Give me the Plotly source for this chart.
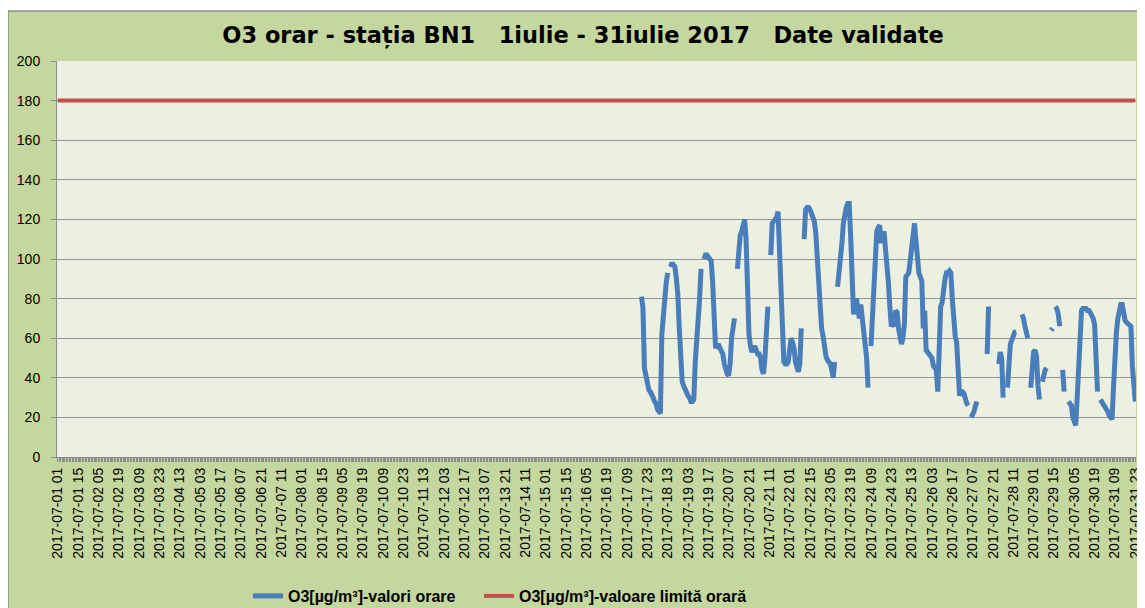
import plotly.graph_objects as go
import pandas as pd

TITLE = "O3 orar - stația BN1\u00a0\u00a0 1iulie - 31iulie 2017\u00a0\u00a0 Date validate"
SERIES_NAME = "O3[µg/m³]-valori orare"
LIMIT_NAME = "O3[µg/m³]-valoare limită orară"

# hourly categories 2017-07-01 01 ... 2017-07-31 23
HOURS = pd.date_range("2017-07-01 01:00", "2017-07-31 23:00", freq="h").strftime("%Y-%m-%d %H").tolist()
LABEL_STEP = 14
Y_TICKS = [0, 20, 40, 60, 80, 100, 120, 140, 160, 180, 200]
LIMIT = 180

# measured values (µg/m³), consecutive hours starting at DATA_START; None = missing
DATA_START = "2017-07-17 19"
O3_VALUES = [
    81, 75, 45, 40, 35, 34, 33, 32, 30, 28, 27, 24, 23, 22, 62, 73, 79, 88, 93, None,
    96, 98, 97, 96, 90, 82, 65, 48, 38, 36, 34, 32, 31, 30, 28, 28, 29, 48, 58, 66,
    80, 95, None, 100, 102, 102, 101, 100, 99, 88, 68, 55, 56, 57, 55, 54, 52, 47, 44, 42,
    41, 47, 60, 66, 70, None, 95, 108, 112, 114, 118, 120, 110, 80, 62, 56, 53, 55, 56, 54,
    52, 52, 50, 44, 42, 50, 62, 76, None, 102, 118, 119, 120, 121, 124, 105, 75, 55, 48, 47,
    47, 48, 55, 60, 58, 55, 48, 45, 43, 47, 65, None, 110, 125, 126, 126, 125, 123, 122, 119,
    113, 100, 88, 72, 65, 61, 55, 51, 49, 48, 47, 44, 40, 48, None, 86, 92, 103, 108, 118,
    124, 126, 128, 128, 112, 85, 72, 78, 80, 75, 70, 77, 70, 66, 62, 50, 35, None, 56, 70,
    88, 100, 114, 116, 117, 108, 113, 114, 105, 98, 88, 76, 66, 67, 66, 74, 73, 65, 59, 57,
    60, 67, 91, 92, 93, 99, 105, 113, 118, 109, 98, 93, 91, 89, 65, 74, 54, 53, 53, 52,
    50, 46, 45, 44, 33, 50, 76, 78, 86, 90, 93, 93, 94, 93, 80, 66, 61, 58, 37, 31,
    33, 33, 32, 29, 27, 26, None, 20, 21, 23, 26, 28, None, None, None, None, None, None,
    52, 76, None, None, None, None, None, None, 47, 53, 50, 30, None, None, 35, 52, 57, 59,
    62, 63, 63, None, None, None, 72, 70, 66, 62, 60, None, 35, 50, 53, 54, 51, 36, 29, None,
    38, 42, 44, 45, None, None, 64, 65, None, 76, 75, 72, 66, None, 44, 33, None, None, 28, 27,
    26, 20, 17, 16, 30, 50, 70, 74, 75, 75, 75, 74, 74, 73, 72, 70, 67, 50, 33, None,
    29, 28, 27, 26, 25, 23, 21, 20, 19, 35, 52, 63, 70, 74, 77, 77, 70, 69, 68, 67,
    66, 66, 46, 35, 28,
]

start = HOURS.index(DATA_START)
data_x = HOURS[start:start + len(O3_VALUES)]

tick_text = [h if i % LABEL_STEP == 0 else "" for i, h in enumerate(HOURS)]

FONT = "Arial, 'Liberation Sans', sans-serif"
TITLE_FONT = "'DejaVu Sans', Arial, sans-serif"
GREEN = "#c4d79f"
CREAM = "#ecf0e0"

W, H = 1137, 600
L, R, T, B = 49, 9, 53, 151

fig = go.Figure()
fig.add_trace(go.Scatter(
    x=data_x, y=O3_VALUES, mode="lines", name=SERIES_NAME,
    line=dict(color="#4a7ebb", width=5), connectgaps=False, legend="legend",
))
fig.add_trace(go.Scatter(
    x=[HOURS[0], HOURS[-1]], y=[LIMIT, LIMIT], mode="lines", name=LIMIT_NAME,
    line=dict(color="#c0504d", width=4), legend="legend2",
))

legend_font = dict(size=16, family=FONT, color="black", weight="bold")
fig.update_layout(
    width=W, height=H, autosize=False,
    margin=dict(l=L, r=R, t=T, b=B, autoexpand=False),
    paper_bgcolor="white", plot_bgcolor=CREAM,
    font=dict(family=FONT, color="black"),
    title=dict(text="<b>" + TITLE + "</b>", x=575 / W, xanchor="center",
               y=1 - 27 / H, yanchor="middle", yref="container",
               font=dict(size=22.5, family=TITLE_FONT, color="black")),
    showlegend=True,
    legend=dict(orientation="h", x=0.177, xanchor="left", y=-0.351, yanchor="middle",
                font=legend_font, bgcolor="rgba(0,0,0,0)"),
    legend2=dict(orientation="h", x=0.3911, xanchor="left", y=-0.351, yanchor="middle",
                 font=legend_font, bgcolor="rgba(0,0,0,0)"),
    shapes=[
        dict(type="rect", xref="paper", yref="paper", x0=-0.0454, x1=1.02, y0=-0.42, y1=1.1263,
             fillcolor=GREEN, line=dict(color="#8c8c8c", width=1.5), layer="below"),
        dict(type="rect", xref="paper", yref="paper", x0=0, x1=1, y0=0, y1=1,
             fillcolor=CREAM, line=dict(width=0), layer="below"),
    ],
)

fig.update_xaxes(
    type="category", categoryorder="array", categoryarray=HOURS,
    range=[-0.5, len(HOURS) - 0.5],
    tickmode="array", tickvals=HOURS, ticktext=tick_text, tickangle=-90,
    ticks="outside", ticklen=4, tickcolor="#8c8c8c", tickwidth=1,
    tickfont=dict(size=14, family=FONT, color="black"),
    showgrid=False, showline=True, linecolor="#8c8c8c", linewidth=1,
    automargin=False,
)
fig.update_yaxes(
    range=[0, 200], tickmode="array", tickvals=Y_TICKS,
    ticks="outside", ticklen=5, tickcolor="#8c8c8c",
    tickfont=dict(size=14, family=FONT, color="black"), ticklabelstandoff=8,
    showgrid=True, gridcolor="#979797", gridwidth=1,
    showline=True, linecolor="#8c8c8c", linewidth=1, zeroline=False,
    automargin=False,
)

fig.write_html("out.html")
